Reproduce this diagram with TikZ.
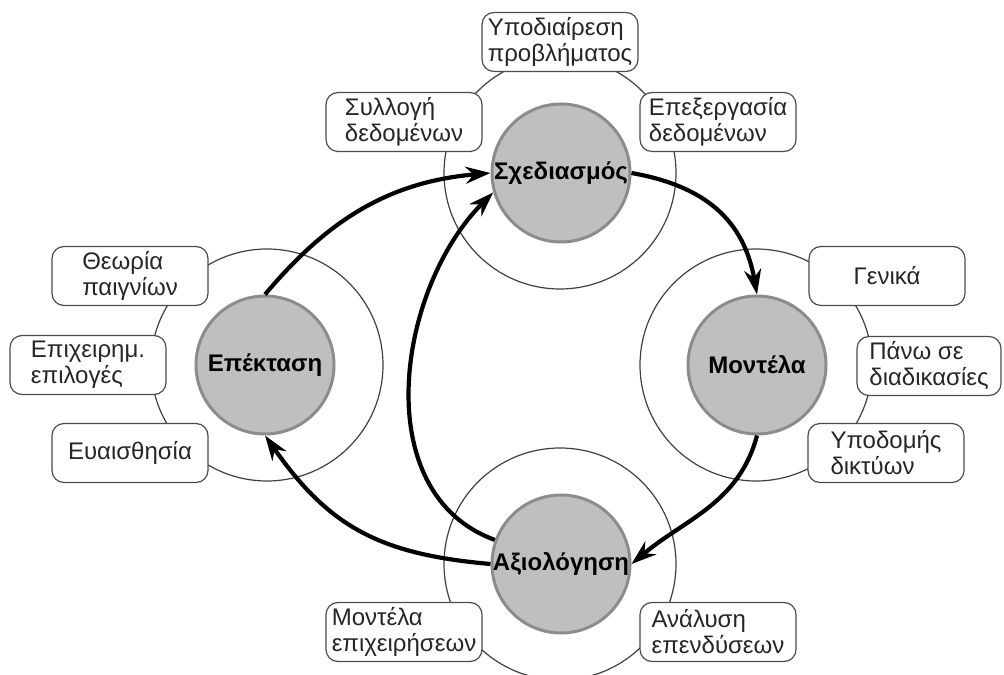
\documentclass[tikz,border=0pt]{standalone}
\usepackage{fontspec}
\setmainfont{Liberation Sans}
\usetikzlibrary{positioning, arrows}
\usetikzlibrary{arrows.meta}

\tikzset{
  ring/.style={circle, draw=black!75, line width=0.6pt, fill=white, minimum size=116pt, inner sep=0pt},
  phase/.style={circle, draw=black!45, line width=1.5pt, fill=black!25, minimum size=69pt, inner sep=0pt, font=\fontsize{12}{13}\selectfont\bfseries},
  topic/.style={draw=black!70, line width=0.6pt, fill=white, rounded corners=6pt, align=left, minimum width=78pt, minimum height=29.5pt, inner sep=2pt, text=black!85},
  flow/.style={->, line width=2.1pt}
}

\begin{document}
\begin{tikzpicture}[x=0.5pt, y=0.5pt, >={Stealth[length=12.5pt, width=8.5pt]}, font=\fontsize{12}{13}\selectfont]
    \useasboundingbox (0,0) rectangle (1004,674);

    % Outer rings
    \node[ring] (planring) at (560,501) {};
    \node[ring] (extring) at (267,309) {};
    \node[ring] (modring) at (756,309) {};
    \node[ring] (evalring) at (560,110) {};

    % Topics round the rings
    \node[topic] (split) at (560,632) {Υποδιαίρεση\\προβλήματος};
    \node[topic] (collect) at (404,552) {Συλλογή\\δεδομένων};
    \node[topic] (process) at (718,552) {Επεξεργασία\\δεδομένων};
    \node[topic] (games) at (130,398) {Θεωρία\\παιγνίων};
    \node[topic] (options) at (88,309) {Επιχειρημ.\\επιλογές};
    \node[topic] (sens) at (130,221) {Ευαισθησία};
    \node[topic] (general) at (887,398) {Γενικά};
    \node[topic, minimum width=72pt] (procs) at (929,308) {Πάνω σε\\διαδικασίες};
    \node[topic] (infra) at (886,221) {Υποδομής\\δικτύων};
    \node[topic] (bizmod) at (404,42) {Μοντέλα\\επιχειρήσεων};
    \node[topic] (invest) at (718,42) {Ανάλυση\\επενδύσεων};

    % Phases
    \node[phase] (plan) at (561,501) {Σχεδιασμός};
    \node[phase] (ext) at (265,309) {Επέκταση};
    \node[phase] (models) at (757,309) {Μοντέλα};
    \node[phase] (eval) at (561,110) {Αξιολόγηση};

    % Cycle arrows
    \draw[flow] (plan.east) to[out=-10, in=100, looseness=1.1] (models.north);
    \draw[flow] (models.south) to[out=-105, in=40] (eval.east);
    \draw[flow] (eval.west) to[out=175, in=-55, looseness=1.1] (ext.south);
    \draw[flow] (ext.north) to[out=50, in=185] (plan.west);
    \draw[flow] (eval.160) to[out=160, in=225] (plan.196);

\end{tikzpicture}
\end{document}
